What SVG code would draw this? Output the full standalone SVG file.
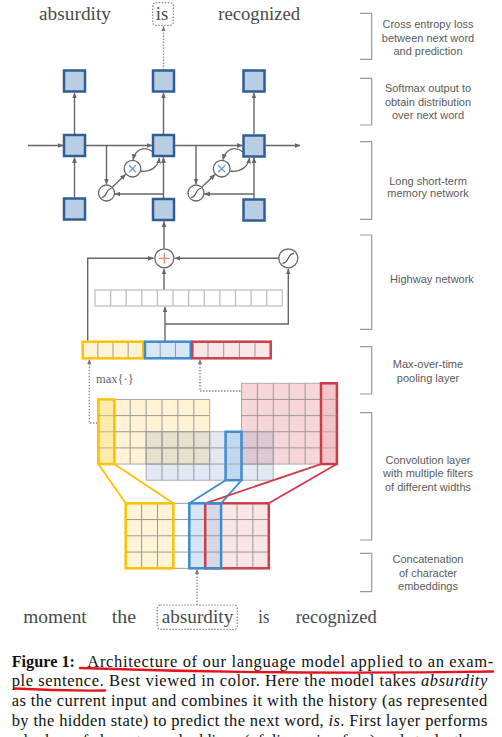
<svg xmlns="http://www.w3.org/2000/svg" width="502" height="737" viewBox="0 0 502 737">
<defs>
<style>
.w{font-family:"Liberation Serif","DejaVu Serif",serif;font-size:18px;fill:#4a4a4a}
.lb{font-family:"Liberation Sans","DejaVu Sans",sans-serif;font-size:11px;fill:#5a5a5a;text-anchor:middle}
.cap{font-family:"Liberation Serif","DejaVu Serif",serif;font-size:16.5px;fill:#111}
.br{fill:none;stroke:#999;stroke-width:1.2}
.bx{fill:#b9cde5;stroke:#2f5e95;stroke-width:2.5}
.ln{fill:none;stroke:#666;stroke-width:1.4}
.dt{fill:none;stroke:#888;stroke-width:1.3;stroke-dasharray:1.5 1.5}
.dbox{fill:none;stroke:#888;stroke-width:1.2;stroke-dasharray:1.5 1.5}
.op{fill:#fff;stroke:#666;stroke-width:1.3}
.sg{fill:none;stroke:#555;stroke-width:1.2}
.mx{stroke:#6d9ed4;stroke-width:1.3}
.gl{fill:none;stroke:#999;stroke-width:1}
.hl{fill:none;stroke:#bbb;stroke-width:1.2}
.ul{fill:none;stroke:#e3141e;stroke-width:2.4;stroke-linecap:round}
</style>
<marker id="ah" viewBox="0 0 10 10" refX="9" refY="5" markerWidth="6" markerHeight="6" markerUnits="userSpaceOnUse" orient="auto"><path d="M0,1 L10,5 L0,9 z" fill="#666"/></marker>
<marker id="ahd" viewBox="0 0 10 10" refX="9" refY="5" markerWidth="5.5" markerHeight="5.5" markerUnits="userSpaceOnUse" orient="auto"><path d="M0,1 L10,5 L0,9 z" fill="#777"/></marker>
</defs>

<!-- words top -->
<g id="top-words">
<text class="w" x="39" y="19.5" textLength="72" lengthAdjust="spacingAndGlyphs">absurdity</text>
<rect class="dbox" x="152.7" y="2.7" width="20.6" height="22.6" rx="3"/>
<text class="w" x="155.8" y="19.5" textLength="12.5" lengthAdjust="spacingAndGlyphs">is</text>
<text class="w" x="218.3" y="19.5" textLength="81.7" lengthAdjust="spacingAndGlyphs">recognized</text>
</g>

<!-- connectors -->
<g id="connectors">
<line class="dt" x1="163.5" y1="70" x2="163.5" y2="26.5" marker-end="url(#ahd)"/>
<line class="ln" x1="74.5" y1="134" x2="74.5" y2="93" marker-end="url(#ah)"/>
<line class="ln" x1="163.5" y1="134" x2="163.5" y2="93" marker-end="url(#ah)"/>
<line class="ln" x1="254" y1="134" x2="254" y2="93" marker-end="url(#ah)"/>
<line class="ln" x1="28" y1="145.5" x2="63" y2="145.5" marker-end="url(#ah)"/>
<line class="ln" x1="86" y1="145.5" x2="152" y2="145.5" marker-end="url(#ah)"/>
<line class="ln" x1="175" y1="145.5" x2="242.5" y2="145.5" marker-end="url(#ah)"/>
<line class="ln" x1="265.5" y1="145.5" x2="300" y2="145.5" marker-end="url(#ah)"/>
<line class="ln" x1="74.5" y1="197.5" x2="74.5" y2="157.5" marker-end="url(#ah)"/>
<!-- block 2 -->
<line class="ln" x1="106.5" y1="145.5" x2="106.5" y2="184" marker-end="url(#ah)"/>
<line class="ln" x1="163.5" y1="198" x2="163.5" y2="157.5" marker-end="url(#ah)"/>
<line class="ln" x1="163.5" y1="194" x2="115" y2="194" marker-end="url(#ah)"/>
<line class="ln" x1="112" y1="187.5" x2="125.5" y2="174.5" marker-end="url(#ah)"/>
<path class="ln" d="M153,152 C146,146 136,148 133,159.5" marker-end="url(#ah)"/>
<path class="ln" d="M140,171 C150,173 158,167 159.5,158" marker-end="url(#ah)"/>
<!-- block 3 -->
<line class="ln" x1="196" y1="145.5" x2="196" y2="184" marker-end="url(#ah)"/>
<line class="ln" x1="254" y1="199" x2="254" y2="157.5" marker-end="url(#ah)"/>
<line class="ln" x1="254" y1="194" x2="204.5" y2="194" marker-end="url(#ah)"/>
<line class="ln" x1="201.5" y1="187.5" x2="215" y2="174.5" marker-end="url(#ah)"/>
<path class="ln" d="M243,152 C236,146 226,148 223,159.5" marker-end="url(#ah)"/>
<path class="ln" d="M230,171 C240,173 248,167 249.5,158" marker-end="url(#ah)"/>
<!-- highway -->
<line class="ln" x1="164" y1="248.5" x2="164" y2="221.5" marker-end="url(#ah)"/>
<line class="ln" x1="164" y1="290" x2="164" y2="269" marker-end="url(#ah)"/>
<line class="ln" x1="278.8" y1="258.3" x2="175" y2="258.3" marker-end="url(#ah)"/>
<polyline class="ln" points="87.7,341 87.7,258.3 153.5,258.3" marker-end="url(#ah)"/>
<line class="ln" x1="165" y1="341" x2="165" y2="307" marker-end="url(#ah)"/>
<polyline class="ln" points="165,324 288.3,324 288.3,269" marker-end="url(#ah)"/>
<!-- pooling dotted -->
<polyline class="dt" points="208.5,423 89.3,423 89.3,359.5" marker-end="url(#ahd)"/>
<polyline class="dt" points="336.5,391 200,391 200,359.5" marker-end="url(#ahd)"/>
<line class="dt" x1="197" y1="605" x2="197" y2="569.5" marker-end="url(#ahd)"/>
</g>

<!-- LSTM / softmax boxes -->
<g id="softmax">
<rect class="bx" x="64" y="70.5" width="21" height="21"/>
<rect class="bx" x="153" y="70.5" width="21" height="21"/>
<rect class="bx" x="243.5" y="70.5" width="21" height="21"/>
</g>
<g id="lstm">
<rect class="bx" x="64" y="135" width="21" height="21"/>
<rect class="bx" x="153" y="135" width="21" height="21"/>
<rect class="bx" x="243.5" y="135.5" width="21" height="21"/>
<circle class="op" cx="106.5" cy="193" r="8"/>
<path class="sg" d="M101.5,197.5 C107.5,197.5 105.5,188.5 111.5,188.5"/>
<circle class="op" cx="132.5" cy="168.7" r="8.3"/>
<path class="mx" d="M129,165.2 L136,172.2 M136,165.2 L129,172.2"/>
<circle class="op" cx="196" cy="193" r="8"/>
<path class="sg" d="M191,197.5 C197,197.5 195,188.5 201,188.5"/>
<circle class="op" cx="221.7" cy="168.7" r="8.3"/>
<path class="mx" d="M218.2,165.2 L225.2,172.2 M225.2,165.2 L218.2,172.2"/>
</g>
<g id="inputs">
<rect class="bx" x="64" y="198.5" width="21" height="21"/>
<rect class="bx" x="153" y="199" width="21" height="21"/>
<rect class="bx" x="243.5" y="199.5" width="21" height="21"/>
</g>

<!-- highway -->
<g id="highway">
<circle class="op" cx="164.3" cy="258.3" r="9.5"/>
<path d="M164.3,253 V263.6 M159,258.3 H169.6" stroke="#e2896b" stroke-width="1.3"/>
<circle class="op" cx="288.3" cy="258.3" r="9.5"/>
<path class="sg" d="M282.5,263.3 C289.5,263.3 287,253.3 294.1,253.3"/>
<rect class="hl" x="95" y="290" width="187.3" height="16"/>
<path class="hl" d="M110.6,290V306M126.2,290V306M141.8,290V306M157.4,290V306M173,290V306M188.6,290V306M204.3,290V306M219.9,290V306M235.5,290V306M251.1,290V306M266.7,290V306"/>
</g>

<!-- pooling -->
<g id="pooling">
<rect x="82.7" y="341.7" width="60.6" height="16.6" fill="#fdf3d6"/>
<rect x="145" y="341.7" width="45.7" height="16.6" fill="#d8e7f5"/>
<rect x="192.3" y="341.7" width="78.4" height="16.6" fill="#f9e6e7"/>
<path class="gl" d="M97.85,341.7V358.3M113,341.7V358.3M128.15,341.7V358.3M160.2,341.7V358.3M175.5,341.7V358.3M208,341.7V358.3M223.7,341.7V358.3M239.4,341.7V358.3M255,341.7V358.3"/>
<rect x="82.7" y="341.7" width="60.6" height="16.6" fill="none" stroke="#ffc000" stroke-width="2.5"/>
<rect x="145" y="341.7" width="45.7" height="16.6" fill="none" stroke="#3d8bd0" stroke-width="2.5"/>
<rect x="192.3" y="341.7" width="78.4" height="16.6" fill="none" stroke="#c9404b" stroke-width="2.5"/>
<text x="96" y="383" font-family="Liberation Serif, DejaVu Serif, serif" font-size="12.5" fill="#666">max{·}</text>
</g>

<!-- convolution -->
<g id="convolution">
<rect x="98.4" y="399.45" width="111.3" height="64.6" fill="#fff3d4"/>
<rect x="146.1" y="431.75" width="127.2" height="48.45" fill="#e3e9f4"/>
<rect x="241.5" y="383.3" width="95.4" height="80.75" fill="#f6d6d8"/>
<rect x="146.1" y="431.75" width="63.6" height="32.3" fill="#e4e2cf"/>
<rect x="241.5" y="431.75" width="31.8" height="32.3" fill="#dcc7d3"/>
<rect x="98.4" y="399.45" width="111.3" height="64.6" fill="none" stroke="#aaa"/>
<rect x="146.1" y="431.75" width="127.2" height="48.45" fill="none" stroke="#aaa"/>
<rect x="241.5" y="383.3" width="95.4" height="80.75" fill="none" stroke="#aaa"/>
<path class="gl" d="M114.3,399.45V464.05M130.2,399.45V464.05M146.1,399.45V464.05M162,399.45V464.05M177.9,399.45V464.05M193.8,399.45V464.05M98.4,415.6H209.7M98.4,431.75H209.7M98.4,447.9H209.7"/>
<path class="gl" d="M162,431.75V480.2M177.9,431.75V480.2M193.8,431.75V480.2M209.7,431.75V480.2M225.6,431.75V480.2M241.5,431.75V480.2M257.4,431.75V480.2M146.1,447.9H273.3M146.1,464.05H273.3"/>
<path class="gl" d="M257.4,383.3V464.05M273.3,383.3V464.05M289.2,383.3V464.05M305.1,383.3V464.05M321,383.3V464.05M241.5,399.45H336.9M241.5,415.6H336.9M241.5,431.75H336.9M241.5,447.9H336.9"/>
<rect x="98.4" y="399.45" width="15.9" height="64.6" fill="#fde8a6" fill-opacity="0.85" stroke="#ffc000" stroke-width="2.5"/>
<rect x="225.6" y="431.75" width="15.9" height="48.45" fill="#bed5eb" fill-opacity="0.85" stroke="#3d8bd0" stroke-width="2.5"/>
<rect x="321" y="383.3" width="15.9" height="80.75" fill="#f2c2c5" fill-opacity="0.85" stroke="#cc3a46" stroke-width="2.5"/>
<path class="gl" d="M98.4,415.6H114.3M98.4,431.75H114.3M98.4,447.9H114.3M225.6,447.9H241.5M225.6,464.05H241.5M321,399.45H336.9M321,415.6H336.9M321,431.75H336.9M321,447.9H336.9" stroke-opacity="0.6"/>
</g>

<!-- fan lines -->
<g id="filters">
<path d="M98.4,464.05L125.7,503.3M114.3,464.05L173.4,503.3" stroke="#ffc000" stroke-width="1.8"/>
<path d="M225.6,480.2L189.3,503.3M241.5,480.2L221.1,503.3" stroke="#3d8bd0" stroke-width="1.8"/>
<path d="M321,464.05L205.2,503.3M336.9,464.05L268.8,503.3" stroke="#cc3a46" stroke-width="1.8"/>
</g>

<!-- embeddings -->
<g id="embeddings">
<rect x="125.7" y="503.3" width="47.7" height="65" fill="#fff4d6"/>
<rect x="189.3" y="503.3" width="15.9" height="65" fill="#d6e5f4"/>
<rect x="205.2" y="503.3" width="15.9" height="65" fill="#d9d7e6"/>
<rect x="221.1" y="503.3" width="47.7" height="65" fill="#f9e5e6"/>
<path class="gl" d="M125.7,503.3H268.8M125.7,519.55H268.8M125.7,535.8H268.8M125.7,552.05H268.8M125.7,568.3H268.8M141.6,503.3V568.3M157.5,503.3V568.3M173.4,503.3V568.3M189.3,503.3V568.3M205.2,503.3V568.3M221.1,503.3V568.3M237,503.3V568.3M252.9,503.3V568.3"/>
<rect x="125.7" y="503.3" width="47.7" height="65" fill="none" stroke="#ffc000" stroke-width="2.5"/>
<rect x="205.2" y="503.3" width="63.6" height="65" fill="none" stroke="#c9404b" stroke-width="2.5"/>
<rect x="189.3" y="503.3" width="31.8" height="65" fill="none" stroke="#3d8bd0" stroke-width="2.5"/>
</g>

<!-- bottom words -->
<g id="bottom-words">
<text class="w" x="23.3" y="622.5" textLength="63.4" lengthAdjust="spacingAndGlyphs">moment</text>
<text class="w" x="111.7" y="622.5" textLength="24.3" lengthAdjust="spacingAndGlyphs">the</text>
<rect class="dbox" x="157.3" y="605" width="80" height="24.3" rx="3"/>
<text class="w" x="161.7" y="622.5" textLength="71.6" lengthAdjust="spacingAndGlyphs">absurdity</text>
<text class="w" x="258.3" y="622.5" textLength="11" lengthAdjust="spacingAndGlyphs">is</text>
<text class="w" x="295.7" y="622.5" textLength="81" lengthAdjust="spacingAndGlyphs">recognized</text>
</g>

<!-- right labels -->
<g id="labels">
<path class="br" d="M360,13.3H371.7V59.3H360"/>
<text class="lb" x="428" y="28">Cross entropy loss</text>
<text class="lb" x="428" y="41.5">between next word</text>
<text class="lb" x="428" y="55">and prediction</text>
<path class="br" d="M360,78.3H371.7V125H360"/>
<text class="lb" x="428" y="92">Softmax output to</text>
<text class="lb" x="428" y="105.5">obtain distribution</text>
<text class="lb" x="428" y="119">over next word</text>
<path class="br" d="M360,141.7H371.7V219.3H360"/>
<text class="lb" x="428" y="184.5">Long short-term</text>
<text class="lb" x="428" y="197">memory network</text>
<path class="br" d="M360,235H371.7V329.3H360"/>
<text class="lb" x="432" y="283">Highway network</text>
<path class="br" d="M360,346.7H371.7V394H360"/>
<text class="lb" x="428" y="368">Max-over-time</text>
<text class="lb" x="428" y="381.5">pooling layer</text>
<path class="br" d="M360,412.7H371.7V540H360"/>
<text class="lb" x="428" y="463.5">Convolution layer</text>
<text class="lb" x="428" y="477">with multiple filters</text>
<text class="lb" x="428" y="491">of different widths</text>
<path class="br" d="M360,553.3H371.7V591.7H360"/>
<text class="lb" x="428" y="563">Concatenation</text>
<text class="lb" x="428" y="576.5">of character</text>
<text class="lb" x="428" y="590">embeddings</text>
</g>

<!-- caption -->
<g id="caption">
<text class="cap" x="11.7" y="666.7" font-weight="bold" textLength="63.3" lengthAdjust="spacingAndGlyphs">Figure 1:</text>
<text class="cap" x="87.3" y="666.7" textLength="406" lengthAdjust="spacing">Architecture of our language model applied to an exam-</text>
<text class="cap" x="11.7" y="686.4" textLength="475.6" lengthAdjust="spacing">ple sentence. Best viewed in color. Here the model takes <tspan font-style="italic">absurdity</tspan></text>
<text class="cap" x="11.7" y="706.1" textLength="475.6" lengthAdjust="spacing">as the current input and combines it with the history (as represented</text>
<text class="cap" x="11.7" y="725.8" textLength="475.6" lengthAdjust="spacing">by the hidden state) to predict the next word, <tspan font-style="italic">is</tspan>. First layer performs</text>
<text class="cap" x="11.7" y="745.5" textLength="475.6" lengthAdjust="spacing">a lookup of character embeddings (of dimension four) and stacks them</text>
<path class="ul" d="M80,668 Q280,675 493,671.5"/>
<path class="ul" d="M15,688.5 Q60,691 105,690.5"/>
</g>
</svg>
